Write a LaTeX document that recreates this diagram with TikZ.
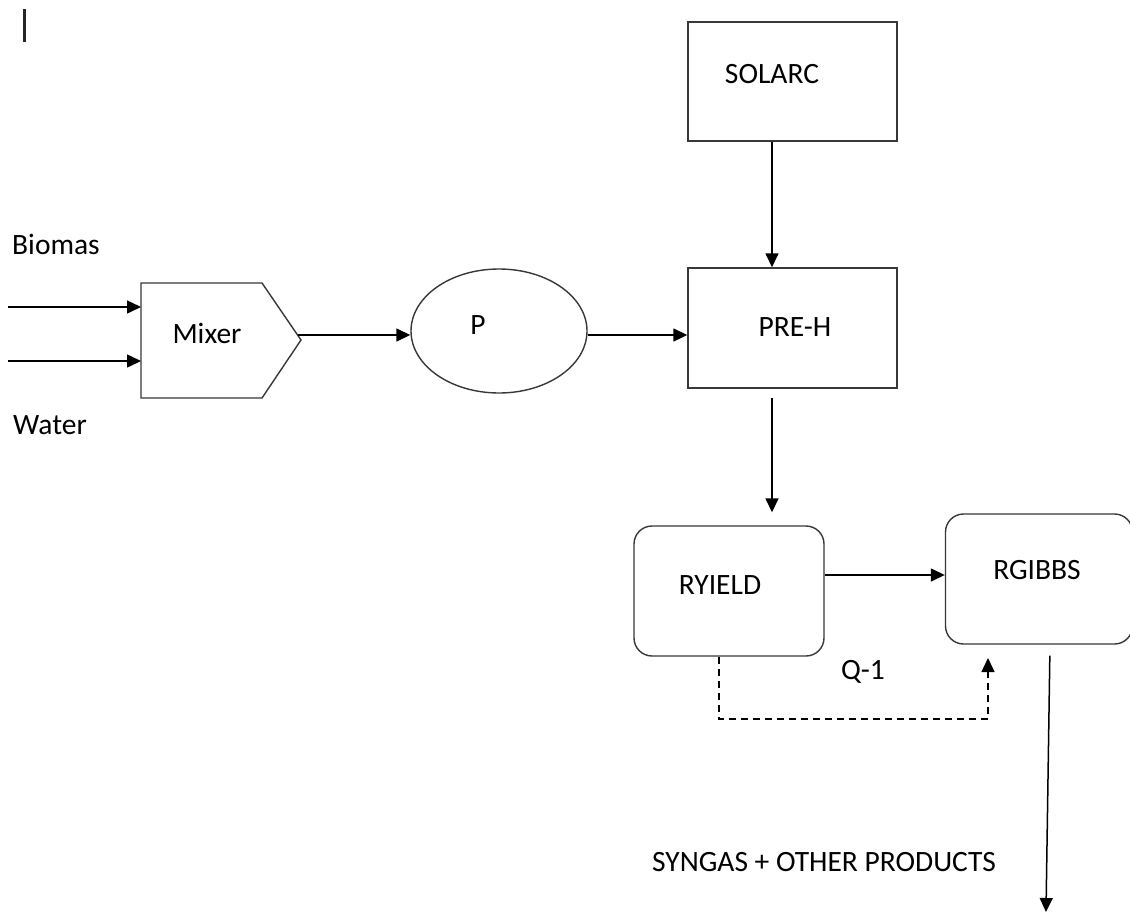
\documentclass[tikz,border=0pt]{standalone}
\usepackage{fontspec}
\setmainfont{Carlito}
\usetikzlibrary{arrows.meta,shapes.geometric,calc}
\begin{document}
\begin{tikzpicture}[x=1pt,y=-1pt,
  shp/.style={draw=black!78,line width=1.4pt,inner sep=0pt,fill=white},
  lbl/.style={font=\fontsize{29.5}{33}\selectfont,inner sep=0pt,text=black},
  arr/.style={draw=black,line width=1.5pt,-{Triangle[length=14pt,width=13pt]}},
  dasharr/.style={arr,dash pattern=on 7pt off 5pt}]
\useasboundingbox (0,0) rectangle (1130,913);
% cursor bar
\draw[line width=2.6pt,black!85] (24.5,9) -- (24.5,42);
% boxes
\node[shp,minimum width=209pt,minimum height=119pt] (solarc) at (792.5,81.5) {};
\node[lbl] (solarcT) at (772,74) {SOLARC};
\node[shp,minimum width=209pt,minimum height=120pt] (preh) at (792.5,328) {};
\node[lbl] (prehT) at (795,327) {PRE-H};
\node[shp,ellipse,minimum width=176pt,minimum height=124pt] (P) at (499,331) {};
\node[lbl] (PT) at (478,325) {P};
\node[shp,rounded corners=18pt,minimum width=190pt,minimum height=130pt] (ryield) at (729,591) {};
\node[lbl] (ryieldT) at (720,585) {RYIELD};
\node[shp,rounded corners=18pt,minimum width=187pt,minimum height=130pt] (rgibbs) at (1039,579) {};
\node[lbl] (rgibbsT) at (1037,570) {RGIBBS};
% mixer
\coordinate (m1) at (141,283);
\coordinate (m2) at (262,283);
\coordinate (mtip) at (301,340);
\coordinate (m4) at (262,398);
\coordinate (m5) at (141,398);
\draw[shp] (m1) -- (m2) -- (mtip) -- (m4) -- (m5) -- cycle;
\node[lbl] (mixer) at (207,333) {Mixer};
\coordinate (mxout) at (298,335);
\coordinate (in1) at (141,307);
\coordinate (in2) at (141,361);
\coordinate (src1) at (8,307);
\coordinate (src2) at (8,361);
% labels
\node[lbl] (biomas) at (56,244) {Biomas};
\node[lbl] (water) at (50,425) {Water};
\node[lbl] (q1) at (863,672) {Q-1};
\node[lbl] (syngas) at (824,862) {SYNGAS + OTHER PRODUCTS};
% helper coordinates
\coordinate (vx) at (772,0);
\coordinate (hy) at (0,575);
\coordinate (qa) at (719,719);
\coordinate (qb) at (988,719);
\coordinate (qend) at (988,658);
\coordinate (ox) at (1050,0);
\coordinate (out) at (1046,912);
% connectors
\draw[arr] (src1) -- (in1);
\draw[arr] (src2) -- (in2);
\draw[arr] (mxout) -- (mxout -| P.west);
\draw[arr] (mxout -| P.east) -- (mxout -| preh.west);
\draw[arr] (solarc.south -| vx) -- (preh.north -| vx);
\draw[arr,shorten <=9pt,shorten >=13pt] (preh.south -| vx) -- (ryield.north -| vx);
\draw[arr] (ryield.east |- hy) -- (rgibbs.west |- hy);
\draw[dasharr] (ryield.south -| qa) -- (qa) -- (qb) -- (qend);
\draw[arr,shorten <=11pt] (rgibbs.south -| ox) -- (out);
\end{tikzpicture}
\end{document}
